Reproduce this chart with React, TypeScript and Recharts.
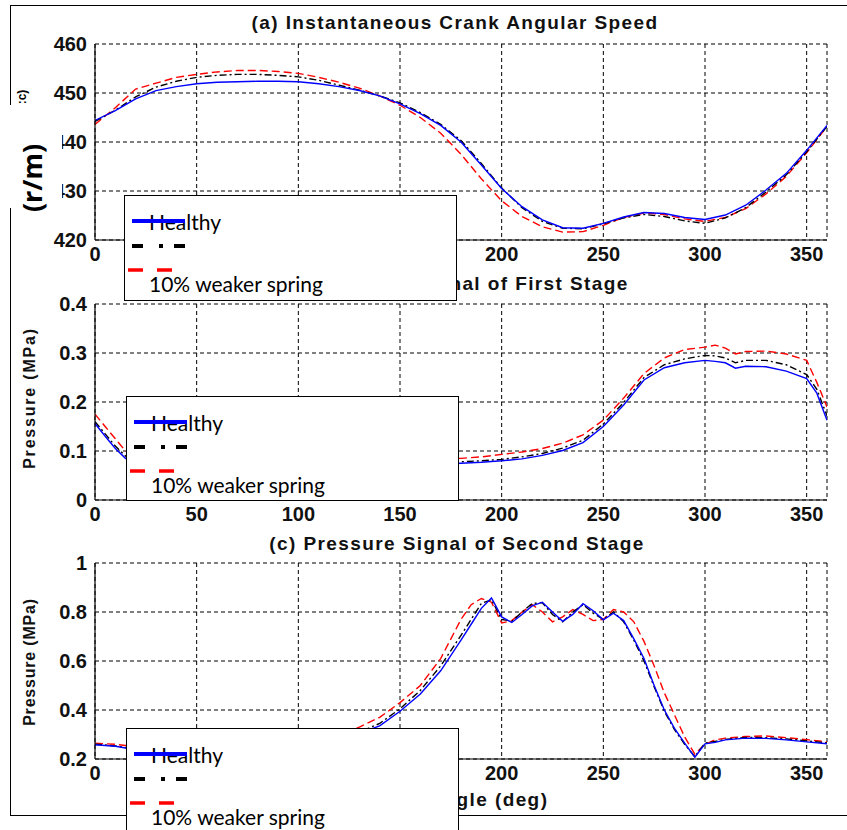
import React from "react";
import { LineChart, Line, XAxis, YAxis, CartesianGrid } from "recharts";

// (a) crank speed, r/min
const ANGLE_A = [0, 10, 20, 30, 40, 50, 60, 70, 80, 90, 100, 110, 120, 130, 140, 150, 160, 170, 180, 190, 200, 210, 220, 230, 240, 250, 260, 270, 280, 290, 300, 310, 320, 330, 340, 350, 360];
const SPEED_HEALTHY = [444.4, 446.4, 448.8, 450.5, 451.3, 451.9, 452.2, 452.3, 452.4, 452.4, 452.3, 451.9, 451.3, 450.5, 449.4, 447.8, 445.8, 443.4, 440.0, 435.3, 430.5, 426.8, 424.1, 422.5, 422.4, 423.4, 424.7, 425.6, 425.4, 424.6, 424.2, 425.1, 427.1, 430.2, 433.6, 438.3, 443.4];
const SPEED_DASHDOT = [444.2, 446.5, 449.2, 451.2, 452.4, 453.2, 453.6, 453.8, 453.8, 453.6, 453.3, 452.6, 451.6, 450.6, 449.4, 448.0, 446.0, 443.6, 440.3, 435.6, 430.6, 426.6, 423.8, 422.4, 422.3, 423.3, 424.5, 425.2, 424.8, 423.9, 423.4, 424.5, 426.6, 429.8, 433.3, 438.0, 443.2];
const SPEED_WEAK = [443.6, 447.0, 450.8, 452.0, 453.2, 453.8, 454.3, 454.6, 454.6, 454.4, 454.0, 453.2, 452.2, 451.0, 449.4, 447.5, 445.0, 441.8, 437.5, 432.5, 428.0, 424.8, 422.7, 421.6, 421.7, 423.0, 424.6, 425.5, 425.2, 424.3, 423.8, 424.6, 426.4, 429.4, 433.0, 437.8, 443.2];

// (b) first stage pressure, MPa
const ANGLE_B = [0, 5, 10, 15, 20, 40, 60, 80, 100, 120, 140, 160, 180, 190, 200, 210, 220, 230, 240, 250, 260, 270, 280, 290, 300, 305, 310, 315, 320, 330, 340, 350, 355, 360];
const P1_HEALTHY = [0.156, 0.13, 0.105, 0.085, 0.072, 0.065, 0.063, 0.064, 0.066, 0.068, 0.07, 0.072, 0.075, 0.077, 0.08, 0.084, 0.091, 0.101, 0.117, 0.15, 0.194, 0.245, 0.27, 0.28, 0.285, 0.283, 0.28, 0.269, 0.273, 0.272, 0.263, 0.248, 0.218, 0.163];
const P1_DASHDOT = [0.16, 0.135, 0.11, 0.09, 0.075, 0.067, 0.065, 0.066, 0.068, 0.07, 0.072, 0.075, 0.078, 0.08, 0.083, 0.088, 0.095, 0.106, 0.122, 0.155, 0.199, 0.25, 0.276, 0.288, 0.295, 0.294, 0.29, 0.28, 0.285, 0.285, 0.276, 0.256, 0.226, 0.172];
const P1_WEAK = [0.175, 0.15, 0.125, 0.1, 0.085, 0.075, 0.073, 0.074, 0.076, 0.078, 0.08, 0.082, 0.085, 0.088, 0.093, 0.098, 0.105, 0.116, 0.133, 0.163, 0.208, 0.258, 0.29, 0.307, 0.312, 0.316, 0.31, 0.298, 0.303, 0.304, 0.298, 0.285, 0.24, 0.19];

// (c) second stage pressure, MPa
const ANGLE_C = [0, 5, 10, 15, 20, 40, 60, 80, 100, 110, 120, 130, 140, 150, 160, 170, 180, 185, 190, 195, 200, 205, 210, 215, 220, 225, 230, 235, 240, 245, 250, 255, 260, 265, 270, 275, 280, 285, 290, 295, 300, 305, 310, 320, 330, 340, 350, 360];
const P2_HEALTHY = [0.258, 0.255, 0.252, 0.245, 0.242, 0.238, 0.238, 0.242, 0.255, 0.265, 0.28, 0.305, 0.335, 0.395, 0.465, 0.56, 0.685, 0.75, 0.815, 0.857, 0.78, 0.757, 0.79, 0.825, 0.84, 0.8, 0.762, 0.79, 0.834, 0.805, 0.768, 0.795, 0.765, 0.69, 0.61, 0.5, 0.4, 0.325, 0.265, 0.207, 0.262, 0.268, 0.278, 0.285, 0.284, 0.278, 0.27, 0.262];
const P2_DASHDOT = [0.26, 0.257, 0.253, 0.247, 0.244, 0.24, 0.24, 0.244, 0.257, 0.268, 0.285, 0.31, 0.345, 0.405, 0.48, 0.58, 0.705, 0.77, 0.835, 0.85, 0.77, 0.762, 0.8, 0.835, 0.838, 0.79, 0.76, 0.8, 0.83, 0.795, 0.77, 0.8, 0.76, 0.685, 0.6, 0.495, 0.395, 0.32, 0.26, 0.21, 0.265, 0.272, 0.28, 0.288, 0.287, 0.282, 0.274, 0.266];
const P2_WEAK = [0.265, 0.262, 0.26, 0.255, 0.25, 0.245, 0.245, 0.25, 0.265, 0.28, 0.3, 0.33, 0.37, 0.43, 0.5, 0.61, 0.77, 0.83, 0.855, 0.84, 0.755, 0.765, 0.8, 0.83, 0.8, 0.76, 0.78, 0.81, 0.79, 0.765, 0.77, 0.81, 0.8, 0.76, 0.68, 0.58, 0.47, 0.38, 0.29, 0.22, 0.26, 0.278, 0.285, 0.292, 0.294, 0.287, 0.279, 0.27];

const X_TICKS = [0, 50, 100, 150, 200, 250, 300, 350];
const Y_TICKS_A = [420, 430, 440, 450, 460];
const Y_TICKS_B = [0, 0.1, 0.2, 0.3, 0.4];
const Y_TICKS_C = [0.2, 0.4, 0.6, 0.8, 1];

const LEGEND_LABELS = ["Healthy", "", "10% weaker spring"];

const tickFont = { fontSize: 20, fontWeight: 700, fill: "#111", fontFamily: "'Liberation Sans', Arial, sans-serif" };
const titleFont: React.CSSProperties = { fontSize: 19, fontWeight: 700, fontFamily: "'Liberation Sans', Arial, sans-serif", color: "#111", letterSpacing: 1.4 };

function build(angles: number[], a: number[], b: number[], c: number[]) {
  return angles.map((x, i) => ({ angle: x, healthy: a[i], dashdot: b[i], weak: c[i] }));
}

function Panel({ top, data, domain, ticks }: { top: number; data: any[]; domain: [number, number]; ticks: number[] }) {
  return (
    <div style={{ position: "absolute", left: 0, top }}>
      <LineChart width={847} height={300} data={data} margin={{ top: 44, right: 20, left: 0, bottom: 0 }}>
        <CartesianGrid stroke="#000" strokeDasharray="4 3" strokeWidth={1} />
        <XAxis
          dataKey="angle"
          type="number"
          domain={[0, 360]}
          ticks={X_TICKS}
          height={60}
          tickSize={0}
          tickMargin={7}
          axisLine={{ stroke: "#000", strokeWidth: 1.2 }}
          tick={tickFont}
          allowDataOverflow
        />
        <XAxis xAxisId="top" orientation="top" dataKey="angle" type="number" domain={[0, 360]} height={0} tick={false} tickLine={false} axisLine={{ stroke: "#000", strokeWidth: 1.2 }} />
        <YAxis
          type="number"
          domain={domain}
          ticks={ticks}
          width={95}
          tickSize={0}
          tickMargin={8}
          axisLine={{ stroke: "#000", strokeWidth: 1.2 }}
          tick={tickFont}
          allowDataOverflow
        />
        <YAxis yAxisId="right" orientation="right" domain={domain} width={0} tick={false} tickLine={false} axisLine={{ stroke: "#000", strokeWidth: 1.2 }} />
        <Line type="linear" dataKey="weak" stroke="#ff0000" strokeWidth={1.4} strokeDasharray="8 4" dot={false} isAnimationActive={false} />
        <Line type="linear" dataKey="dashdot" stroke="#000" strokeWidth={1.4} strokeDasharray="7 3 2 3" dot={false} isAnimationActive={false} />
        <Line type="linear" dataKey="healthy" stroke="#0000ff" strokeWidth={1.4} dot={false} isAnimationActive={false} />
      </LineChart>
    </div>
  );
}

function Txt({ x, y, rot, style, children }: { x: number; y: number; rot?: boolean; style?: React.CSSProperties; children: React.ReactNode }) {
  return (
    <div
      style={{
        position: "absolute",
        left: x,
        top: y,
        transform: `translate(-50%, -50%)${rot ? " rotate(-90deg)" : ""}`,
        whiteSpace: "nowrap",
        lineHeight: 1,
        ...style,
      }}
    >
      {children}
    </div>
  );
}

function LegendBox({ left, top, height }: { left: number; top: number; height: number }) {
  const font: React.CSSProperties = { position: "absolute", left: 24, fontSize: 21, fontFamily: "Lato, 'Open Sans', sans-serif", color: "#000", lineHeight: 1, whiteSpace: "nowrap" };
  return (
    <div style={{ position: "absolute", left, top, width: 333, height, border: "1.5px solid #000", background: "#fff", overflow: "hidden", boxSizing: "border-box" }}>
      <div style={{ ...font, top: 15 }}>{LEGEND_LABELS[0]}</div>
      <svg width={70} height={90} style={{ position: "absolute", left: 0, top: 0 }}>
        <line x1={7} x2={60} y1={25} y2={25} stroke="#0000ff" strokeWidth={4} />
        <line x1={7} x2={60} y1={50} y2={50} stroke="#000" strokeWidth={4} strokeDasharray="11 16 4 11 11 100" />
        <line x1={3} x2={49} y1={74} y2={74} stroke="#ff0000" strokeWidth={3.5} strokeDasharray="15 14" />
      </svg>
      <div style={{ ...font, top: 50 }}>{LEGEND_LABELS[1]}</div>
      <div style={{ ...font, top: 77 }}>{LEGEND_LABELS[2]}</div>
    </div>
  );
}

export default function App() {
  const dataA = build(ANGLE_A, SPEED_HEALTHY, SPEED_DASHDOT, SPEED_WEAK);
  const dataB = build(ANGLE_B, P1_HEALTHY, P1_DASHDOT, P1_WEAK);
  const dataC = build(ANGLE_C, P2_HEALTHY, P2_DASHDOT, P2_WEAK);
  const ylab: React.CSSProperties = { fontSize: 16, fontWeight: 700, fontFamily: "'Liberation Sans', Arial, sans-serif", letterSpacing: 1.8, color: "#111" };

  return (
    <div style={{ position: "absolute", left: 0, top: 0, width: 847, height: 830, overflow: "hidden", background: "#fff" }}>
      <div style={{ position: "absolute", left: 10, top: 5, width: 900, height: 811, border: "1.5px solid #000", boxSizing: "border-box" }} />

      <Txt x={455} y={22} style={titleFont}>(a) Instantaneous Crank Angular Speed</Txt>
      <Txt x={455} y={283} style={titleFont}>(b) Pressure Signal of First Stage</Txt>
      <Txt x={457} y={543} style={titleFont}>(c) Pressure Signal of Second Stage</Txt>
      <Txt x={455} y={799} style={titleFont}>Crank Angle (deg)</Txt>

      <Panel top={0} data={dataA} domain={[420, 460]} ticks={Y_TICKS_A} />
      <Panel top={260} data={dataB} domain={[0, 0.4]} ticks={Y_TICKS_B} />
      <Panel top={519} data={dataC} domain={[0.2, 1]} ticks={Y_TICKS_C} />

      <Txt x={22} y={97} rot style={{ fontSize: 12, fontWeight: 700, fontFamily: "'Liberation Sans', Arial, sans-serif" }}>:c)</Txt>
      <div style={{ position: "absolute", left: 8, top: 105, width: 54, height: 103, background: "#fff" }} />
      <Txt x={31} y={178} rot style={{ fontSize: 27, fontWeight: 700, fontFamily: "'Open Sans', 'Liberation Sans', sans-serif" }}>(r/m)</Txt>
      <Txt x={30} y={398} rot style={ylab}>Pressure (MPa)</Txt>
      <Txt x={30} y={662} rot style={{ ...ylab, letterSpacing: 0.8 }}>Pressure (MPa)</Txt>

      <LegendBox left={124} top={195} height={106} />
      <LegendBox left={126} top={396} height={105} />
      <LegendBox left={126} top={728} height={120} />
    </div>
  );
}
